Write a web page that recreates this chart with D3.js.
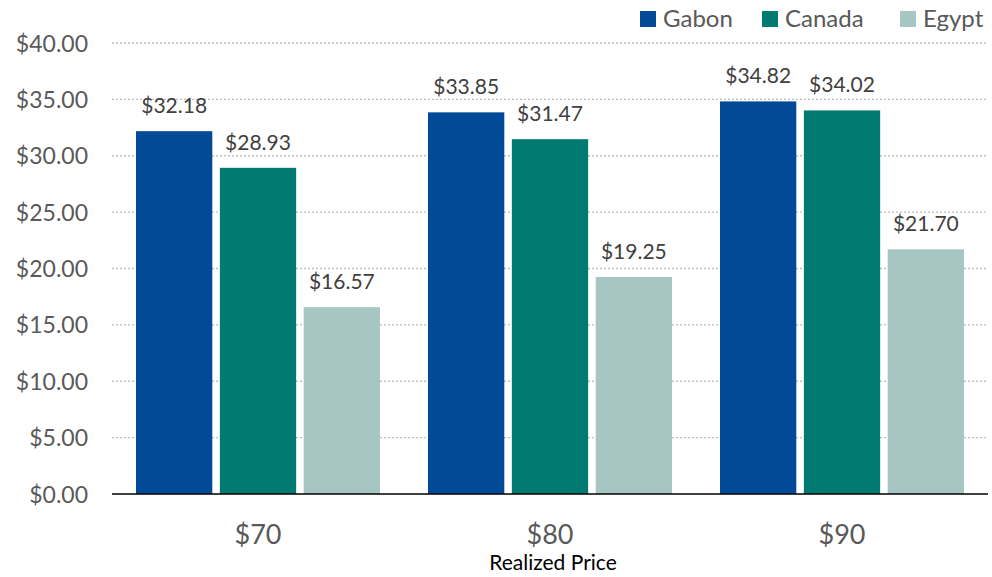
<!DOCTYPE html>
<html>
<head>
<meta charset="utf-8">
<script src="https://cdn.jsdelivr.net/npm/d3@7"></script>
<style>
  html, body { margin: 0; padding: 0; background: #fff; }
  svg { display: block; font-family: Lato, "Open Sans", "Liberation Sans", sans-serif; }
</style>
</head>
<body>
<svg id="chart" width="992" height="577"></svg>
<script>
// Realized price scenarios and per-country values (USD)
const categories = ["$70", "$80", "$90"];
const seriesNames = ["Gabon", "Canada", "Egypt"];
const gabon  = [32.18, 33.85, 34.82];
const canada = [28.93, 31.47, 34.02];
const egypt  = [16.57, 19.25, 21.70];
const yTicks = [0, 5, 10, 15, 20, 25, 30, 35, 40];
const colors = ["#014A97", "#017A72", "#A7C5C2"];

const seriesValues = [gabon, canada, egypt];
const rows = categories.map((c, i) => ({
  cat: c,
  vals: seriesNames.map((s, j) => ({ key: s, value: seriesValues[j][i], color: colors[j] }))
}));

const svg = d3.select("#chart");
const plotLeft = 112, plotRight = 988, plotTop = 43, plotBottom = 494;

const x0 = d3.scaleBand().domain(categories).range([plotLeft, plotRight]).paddingInner(0).paddingOuter(0);
const x1 = d3.scaleBand().domain(seriesNames).range([24, x0.bandwidth() - 24]).paddingInner(0.09);
const y = d3.scaleLinear().domain([0, 40]).range([plotBottom, plotTop]);

// dotted gridlines
svg.append("g")
  .selectAll("line")
  .data(yTicks.filter(t => t > 0))
  .join("line")
  .attr("x1", plotLeft).attr("x2", plotRight)
  .attr("y1", d => y(d)).attr("y2", d => y(d))
  .attr("stroke", "#bfbfbf")
  .attr("stroke-width", 1.3)
  .attr("stroke-dasharray", "2,2");

// y axis labels
const yAxis = d3.axisLeft(y).tickValues(yTicks).tickSize(0).tickPadding(0)
  .tickFormat(d => "$" + d.toFixed(2));
const gy = svg.append("g").attr("transform", `translate(${plotLeft - 24},0)`).call(yAxis);
gy.select(".domain").remove();
gy.selectAll("text")
  .attr("font-size", 23)
  .attr("fill", "#595959")
  .attr("font-family", "Lato, 'Open Sans', sans-serif")
  .attr("dy", "0.35em");

// bars
const groups = svg.append("g")
  .selectAll("g")
  .data(rows)
  .join("g")
  .attr("transform", d => `translate(${x0(d.cat)},0)`);

groups.selectAll("rect")
  .data(d => d.vals)
  .join("rect")
  .attr("x", d => x1(d.key))
  .attr("width", x1.bandwidth())
  .attr("y", d => y(d.value))
  .attr("height", d => y(0) - y(d.value))
  .attr("fill", d => d.color);

groups.selectAll("text.val")
  .data(d => d.vals)
  .join("text")
  .attr("class", "val")
  .attr("x", d => x1(d.key) + x1.bandwidth() / 2)
  .attr("y", d => y(d.value) - 18)
  .attr("text-anchor", "middle")
  .attr("font-size", 21)
  .attr("fill", "#404040")
  .text(d => "$" + d.value.toFixed(2));

// baseline
svg.append("line")
  .attr("x1", plotLeft).attr("x2", plotRight)
  .attr("y1", y(0)).attr("y2", y(0))
  .attr("stroke", "#000").attr("stroke-width", 1.5);

// x axis labels
const xAxis = d3.axisBottom(x0).tickSize(0).tickPadding(0);
const gx = svg.append("g").attr("transform", `translate(0,${plotBottom})`).call(xAxis);
gx.select(".domain").remove();
gx.selectAll("text")
  .attr("font-size", 27)
  .attr("fill", "#595959")
  .attr("font-family", "Lato, 'Open Sans', sans-serif")
  .attr("dy", null)
  .attr("y", 50);

svg.append("text")
  .attr("x", 553)
  .attr("y", 570)
  .attr("text-anchor", "middle")
  .attr("font-size", 21)
  .attr("fill", "#000")
  .text("Realized Price");

// legend
const legendX = [640, 762, 900];
const legend = svg.append("g")
  .selectAll("g")
  .data(seriesNames)
  .join("g")
  .attr("transform", (d, i) => `translate(${legendX[i]},11)`);
legend.append("rect").attr("width", 16).attr("height", 16).attr("fill", (d, i) => colors[i]);
legend.append("text")
  .attr("x", 23).attr("y", 16)
  .attr("font-size", 24)
  .attr("fill", "#595959")
  .text(d => d);
</script>
</body>
</html>
